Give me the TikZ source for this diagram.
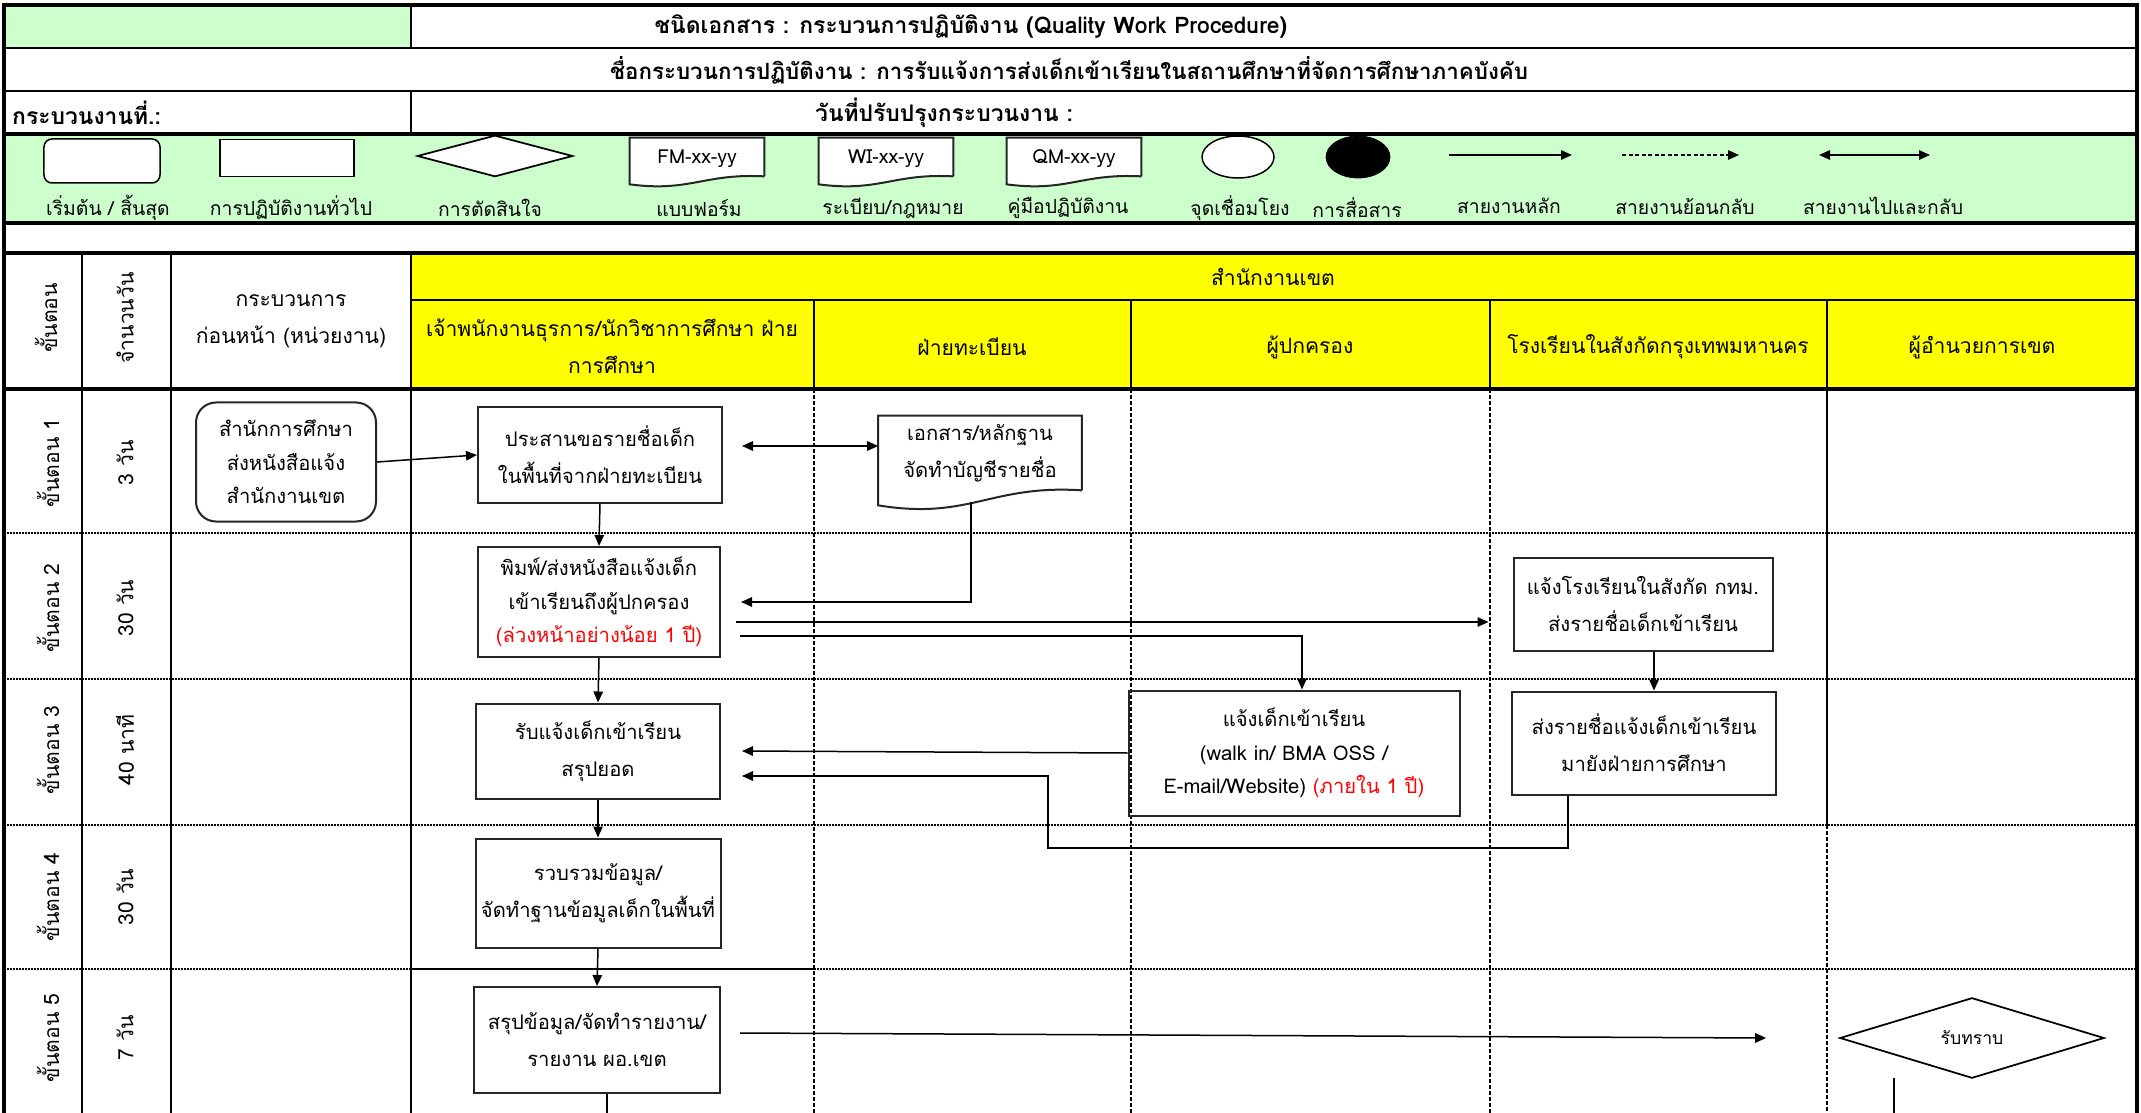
\documentclass[tikz,border=0pt]{standalone}
\usepackage{fontspec}
\setmainfont{Loma}[Script=Thai]
\usepackage{tikz}
\usetikzlibrary{positioning}
\usetikzlibrary{calc, arrows.meta, shapes.geometric}
\definecolor{lgreen}{HTML}{CCFFCC}
\definecolor{lyellow}{HTML}{FFFF00}
\tikzstyle{box} = [rectangle, draw=black!85, line width=0.4mm, align=center, inner sep=0pt, font=\fontsize{11.5}{21}\selectfont]
\tikzstyle{doc} = [rectangle, align=center, inner sep=0pt, font=\fontsize{11.5}{21}\selectfont]
\tikzstyle{flow} = [line width=0.3mm, -{Triangle[length=2.2mm,width=1.9mm]}]
\tikzstyle{twoway} = [line width=0.3mm, {Triangle[length=2.2mm,width=1.9mm]}-{Triangle[length=2.2mm,width=1.9mm]}]
\tikzstyle{lane} = [line width=0.35mm, dash pattern=on 0.7mm off 0.5mm]
\tikzstyle{rowline} = [line width=0.35mm, dash pattern=on 0.3mm off 0.3mm]
\tikzstyle{hdr} = [font=\fontsize{12}{21}\selectfont, align=center]
\tikzstyle{ttl} = [font=\bfseries\fontsize{13}{15}\selectfont]
\tikzstyle{lgd} = [font=\fontsize{11}{13}\selectfont]
% #1 node, #2 wave depth, #3 text style, #4 text
\newcommand{\docshape}[4]{%
  \draw[line width=0.4mm, draw=black!85, fill=white] (#1.south east) -- (#1.north east) -- (#1.north west) -- ($(#1.south west)+(0,#2)$)
    .. controls ($(#1.south west)!0.45!(#1.south east)+(0,2*#2)$) and ($(#1.south west)!0.55!(#1.south east)+(0,-0.4*#2)$) .. (#1.south east);
  \node (#1t) at (#1.center) [doc, #3] {#4};}
\newcommand{\diamondshape}[2][]{%
  \draw[line width=0.35mm, #1] (#2.west) -- (#2.north) -- (#2.east) -- (#2.south) -- cycle;}

\begin{document}
\begin{tikzpicture}[x=0.2mm,y=-0.2mm]
      \useasboundingbox (0,0) rectangle (2141,1113);
      \clip (0,0) rectangle (2141,1113);
      %%%%%%%%%%%%%%%%%%%%%%%%%%%%%%%%%%%%%%%
      % fills
      \fill[lgreen] (4,5) rectangle (411,48);
      \fill[lgreen] (4,134) rectangle (2137,223);
      \fill[lyellow] (411,253) rectangle (2137,389);
      %%%%%%%%%%%%%%%%%%%%%%%%%%%%%%%%%%%%%%%
      % frame and header grid
      \draw[line width=0.8mm] (4,1130) -- (4,5) -- (2137,5) -- (2137,1130);
      \draw[line width=0.45mm] (4,48) -- (2137,48);
      \draw[line width=0.45mm] (4,91) -- (2137,91);
      \draw[line width=0.8mm] (4,134) -- (2137,134);
      \draw[line width=0.8mm] (4,223) -- (2137,223);
      \draw[line width=0.8mm] (4,253) -- (2137,253);
      \draw[line width=0.45mm] (411,300) -- (2137,300);
      \draw[line width=0.8mm] (4,389) -- (2137,389);
      \draw[line width=0.45mm] (411,5) -- (411,48);
      \draw[line width=0.45mm] (411,91) -- (411,134);
      \draw[line width=0.45mm] (82,253) -- (82,1130);
      \draw[line width=0.45mm] (171,253) -- (171,1130);
      \draw[line width=0.45mm] (411,253) -- (411,1130);
      \draw[line width=0.45mm] (814,300) -- (814,389);
      \draw[line width=0.45mm] (1131,300) -- (1131,389);
      \draw[line width=0.45mm] (1490,300) -- (1490,389);
      \draw[line width=0.45mm] (1827,300) -- (1827,825);
      % lanes and rows
      \draw[lane] (814,389) -- (814,1130);
      \draw[lane] (1131,389) -- (1131,1130);
      \draw[lane] (1490,389) -- (1490,1130);
      \draw[lane] (1827,825) -- (1827,1130);
      \draw[rowline] (4,533) -- (2137,533);
      \draw[rowline] (4,679) -- (2137,679);
      \draw[rowline] (4,825) -- (2137,825);
      \draw[rowline] (4,969) -- (411,969);
      \draw[line width=0.4mm] (411,969) -- (814,969);
      \draw[rowline] (814,969) -- (2137,969);
      %%%%%%%%%%%%%%%%%%%%%%%%%%%%%%%%%%%%%%%
      % header texts
      \draw (971,27) node (t1) [ttl] {ชนิดเอกสาร : กระบวนการปฏิบัติงาน (Quality Work Procedure)};
      \draw (1069,70) node (t2) [ttl, font=\bfseries\fontsize{12.7}{15}\selectfont] {ชื่อกระบวนการปฏิบัติงาน : การรับแจ้งการส่งเด็กเข้าเรียนในสถานศึกษาที่จัดการศึกษาภาคบังคับ};
      \draw (6,113) node (t3) [ttl, anchor=west] {กระบวนงานที่.:};
      \draw (944,113) node (t4) [ttl] {วันที่ปรับปรุงกระบวนงาน :};
      %%%%%%%%%%%%%%%%%%%%%%%%%%%%%%%%%%%%%%%
      % legend
      \draw (102,161) node (lg1) [draw, fill=white, line width=0.3mm, rounded corners=1.6mm, minimum width=23.2mm, minimum height=8.8mm] {};
      \draw (287,158) node (lg2) [draw, fill=white, line width=0.3mm, minimum width=26.8mm, minimum height=7.4mm] {};
      \draw (495,156) node (lg3) [minimum width=30.8mm, minimum height=8mm] {};
      \diamondshape[fill=white]{lg3}
      \draw (697,157) node (lg4) [doc, minimum width=26.8mm, minimum height=7.6mm] {};
      \docshape{lg4}{8}{lgd, text height=3.4mm}{FM-xx-yy}
      \draw (886,157) node (lg5) [doc, minimum width=26.8mm, minimum height=7.6mm] {};
      \docshape{lg5}{8}{lgd, text height=3.4mm}{WI-xx-yy}
      \draw (1074,157) node (lg6) [doc, minimum width=26.8mm, minimum height=7.6mm] {};
      \docshape{lg6}{8}{lgd, text height=3.4mm}{QM-xx-yy}
      \draw (1238,157) node (lg7) [draw, fill=white, ellipse, line width=0.3mm, minimum width=14.4mm, minimum height=8.4mm] {};
      \draw (1358,157) node (lg8) [draw, fill=black, ellipse, minimum width=12.8mm, minimum height=8.4mm] {};
      \coordinate (la1) at (1449,155);
      \coordinate (la2) at (1572,155);
      \coordinate (lb1) at (1622,155);
      \coordinate (lb2) at (1739,155);
      \coordinate (lc1) at (1819,155);
      \coordinate (lc2) at (1930,155);
      \draw[flow] (la1) -- (la2);
      \draw[flow, dash pattern=on 0.8mm off 0.5mm] (lb1) -- (lb2);
      \draw[twoway] (lc1) -- (lc2);
      \draw (108,208) node (lt1) [lgd] {เริ่มต้น / สิ้นสุด};
      \draw (291,208) node (lt2) [lgd] {การปฏิบัติงานทั่วไป};
      \draw (490,208) node (lt3) [lgd] {การตัดสินใจ};
      \draw (699,208) node (lt4) [lgd] {แบบฟอร์ม};
      \draw (893,208) node (lt5) [lgd] {ระเบียบ/กฎหมาย};
      \draw (1068,208) node (lt6) [lgd] {คู่มือปฏิบัติงาน};
      \draw (1240,208) node (lt7) [lgd] {จุดเชื่อมโยง};
      \draw (1357,208) node (lt8) [lgd] {การสื่อสาร};
      \draw (1509,206) node (lt9) [lgd] {สายงานหลัก};
      \draw (1685,206) node (lt10) [lgd] {สายงานย้อนกลับ};
      \draw (1883,206) node (lt11) [lgd] {สายงานไปและกลับ};
      %%%%%%%%%%%%%%%%%%%%%%%%%%%%%%%%%%%%%%%
      % column and lane headers
      \draw (46,318) node (h1) [hdr, rotate=90] {ขั้นตอน};
      \draw (125,318) node (h2) [hdr, rotate=90] {จำนวนวัน};
      \draw (291,321) node (h3) [hdr] {กระบวนการ\\ก่อนหน้า (หน่วยงาน)};
      \draw (1273,277) node (h4) [hdr] {สำนักงานเขต};
      \draw (612,346) node (l1) [hdr] {เจ้าพนักงานธุรการ/นักวิชาการศึกษา ฝ่าย\\การศึกษา};
      \draw (972,347) node (l2) [hdr] {ฝ่ายทะเบียน};
      \draw (1310,347) node (l3) [hdr] {ผู้ปกครอง};
      \draw (1658,347) node (l4) [hdr] {โรงเรียนในสังกัดกรุงเทพมหานคร};
      \draw (1982,347) node (l5) [hdr] {ผู้อำนวยการเขต};
      % steps and days
      \draw (48,463) node (s1) [hdr, rotate=90] {ขั้นตอน 1};
      \draw (48,608) node (s2) [hdr, rotate=90] {ขั้นตอน 2};
      \draw (48,750) node (s3) [hdr, rotate=90] {ขั้นตอน 3};
      \draw (48,897) node (s4) [hdr, rotate=90] {ขั้นตอน 4};
      \draw (48,1038) node (s5) [hdr, rotate=90] {ขั้นตอน 5};
      \draw (125,463) node (n1) [hdr, rotate=90] {3 วัน};
      \draw (125,608) node (n2) [hdr, rotate=90] {30 วัน};
      \draw (125,750) node (n3) [hdr, rotate=90] {40 นาที};
      \draw (125,897) node (n4) [hdr, rotate=90] {30 วัน};
      \draw (125,1038) node (n5) [hdr, rotate=90] {7 วัน};
      %%%%%%%%%%%%%%%%%%%%%%%%%%%%%%%%%%%%%%%
      % process boxes
      \draw (286,462) node (st) [box, rounded corners=4mm, minimum width=36mm, minimum height=23.8mm, font=\fontsize{11.5}{19}\selectfont] {สำนักการศึกษา\\ส่งหนังสือแจ้ง\\สำนักงานเขต};
      \draw (600,455) node (b1) [box, minimum width=48.8mm, minimum height=19.2mm] {ประสานขอรายชื่อเด็ก\\ในพื้นที่จากฝ่ายทะเบียน};
      \draw (980,453) node (d1) [doc, minimum width=40.6mm, minimum height=14.8mm] {};
      \docshape{d1}{15}{}{เอกสาร/หลักฐาน\\จัดทำบัญชีรายชื่อ}
      \draw (599,602) node (b2) [box, minimum width=48.4mm, minimum height=22mm, font=\fontsize{11.5}{19}\selectfont] {พิมพ์/ส่งหนังสือแจ้งเด็ก\\เข้าเรียนถึงผู้ปกครอง\\{\color{red}(ล่วงหน้าอย่างน้อย 1 ปี)}};
      \draw (1643,604) node (b2d) [box, minimum width=51.8mm, minimum height=18.6mm] {แจ้งโรงเรียนในสังกัด กทม.\\ส่งรายชื่อเด็กเข้าเรียน};
      \draw (598,751) node (b3) [box, minimum width=48.8mm, minimum height=19mm] {รับแจ้งเด็กเข้าเรียน\\สรุปยอด};
      \draw (1294,753) node (b3c) [box, minimum width=66.2mm, minimum height=25mm, font=\fontsize{11.5}{19}\selectfont] {แจ้งเด็กเข้าเรียน\\(walk in/ BMA OSS /\\E-mail/Website) {\color{red}(ภายใน 1 ปี)}};
      \draw (1644,743) node (b3d) [box, minimum width=52.8mm, minimum height=20.6mm] {ส่งรายชื่อแจ้งเด็กเข้าเรียน\\มายังฝ่ายการศึกษา};
      \draw (598,893) node (b4) [box, minimum width=49mm, minimum height=21.8mm] {รวบรวมข้อมูล/\\จัดทำฐานข้อมูลเด็กในพื้นที่};
      \draw (597,1040) node (b5) [box, minimum width=49.2mm, minimum height=21.2mm] {สรุปข้อมูล/จัดทำรายงาน/\\รายงาน ผอ.เขต};
      \draw (1972,1038) node (rb) [minimum width=52.6mm, minimum height=15.8mm, font=\fontsize{10}{12}\selectfont] {รับทราบ};
      \diamondshape{rb}
      %%%%%%%%%%%%%%%%%%%%%%%%%%%%%%%%%%%%%%%
      % connectors
      \draw[flow] (st.east) -- (b1.west);
      \draw[twoway] ($(b1.east)+(19,-9)$) -- ($(d1.west)+(0,-7)$);
      \draw[flow] (b1.south) -- (b2.north);
      \draw[flow] ($(d1.south)+(-9,12)$) |- ($(b2.east)+(20,0)$);
      \draw[flow] ($(b2.east)+(15,20)$) -- ($(b2d.west)+(-24,18)$);
      \draw[flow] ($(b2.east)+(19,34)$) -| ($(b3c.north)+(8,0)$);
      \draw[flow] (b2.south) -- (b3.north);
      \draw[flow] (b3c.west) -- ($(b3.east)+(21,0)$);
      \draw[flow] ($(b2d.south)+(11,0)$) -- ($(b3d.north)+(10,0)$);
      \coordinate (k1) at (1048,848);
      \draw[flow] ($(b3d.south)+(-76,0)$) |- (k1) |- ($(b3.east)+(21,25)$);
      \draw[flow] (b3.south) -- (b4.north);
      \draw[flow] (b4.south) -- (b5.north);
      \draw[flow] ($(b5.east)+(19,-7)$) -- ($(rb.west)+(-74,0)$);
      \coordinate (e1) at (607,1130);
      \coordinate (e2) at (1894,1130);
      \draw[line width=0.3mm] (b5.south -| e1) -- (e1);
      \draw[line width=0.3mm] (rb.south -| e2) -- (e2);
\end{tikzpicture}
\end{document}
